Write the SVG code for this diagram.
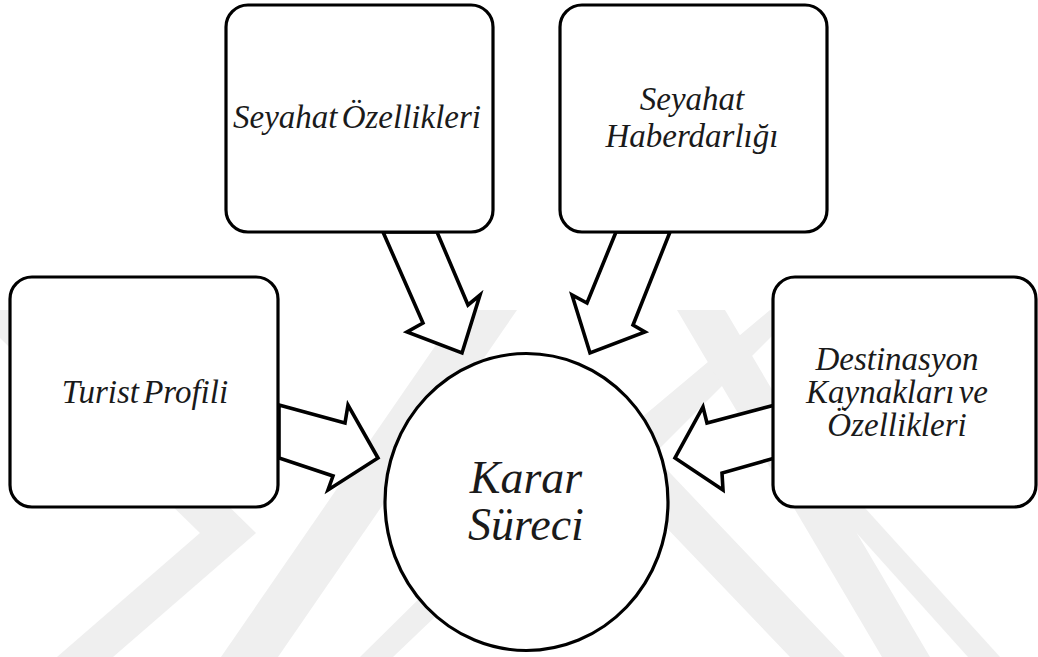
<svg xmlns="http://www.w3.org/2000/svg" width="1038" height="657" viewBox="0 0 1038 657">
<style>
.box{fill:#ffffff;stroke:#000000;stroke-width:3.2}
.arrow{fill:#ffffff;stroke:#000000;stroke-width:3.6;stroke-linejoin:miter}
.wm{fill:#efefef;stroke:none}
</style>
<rect width="1038" height="657" fill="#ffffff"/>
<g id="watermark">
<polygon class="wm" points="0,310 28,310 256,533 113,657 57,657 200,533 0,338"/>
<polygon class="wm" points="460,310 517,310 278,657 221,657"/>
<polygon class="wm" points="590,430 612,448 393,657 360,657"/>
<polygon class="wm" points="770,310 798,310 653,455 845,657 790,657 597,455"/>
<polygon class="wm" points="677,310 725,310 930,657 882,657"/>
<polygon class="wm" points="800,470 826,465 1000,657 968,657"/>
</g>
<g id="connectors">
<polygon class="arrow" points="279,405 345,423 348,405 378,458 328,490 333,476 279,458"/>
<polygon class="arrow" points="383,232 423,323 407,332 462,353 480,295 468,305 437,232"/>
<polygon class="arrow" points="616,232 587,303 572,295 590,353 645,332 633,325 670,232"/>
<polygon class="arrow" points="775,405 707,423 703,407 675,458 723,490 722,473 775,458"/>
</g>
<g id="node-turist">
<rect class="box" x="10" y="277" width="268" height="230" rx="22"/>
<text x="145" y="403" font-family="Liberation Serif" font-style="italic" font-size="33" fill="#1a1a1a" text-anchor="middle" word-spacing="-4">Turist Profili</text>
</g>
<g id="node-seyahat-ozellikleri">
<rect class="box" x="226" y="5" width="267" height="227" rx="22"/>
<text x="357" y="128" font-family="Liberation Serif" font-style="italic" font-size="33" fill="#1a1a1a" text-anchor="middle" word-spacing="-4">Seyahat Özellikleri</text>
</g>
<g id="node-seyahat-haberdarligi">
<rect class="box" x="560" y="5" width="267" height="227" rx="22"/>
<text x="692" y="110" font-family="Liberation Serif" font-style="italic" font-size="33" fill="#1a1a1a" text-anchor="middle">Seyahat</text>
<text x="692" y="147" font-family="Liberation Serif" font-style="italic" font-size="33" fill="#1a1a1a" text-anchor="middle">Haberdarlığı</text>
</g>
<g id="node-destinasyon">
<rect class="box" x="773" y="277" width="263" height="230" rx="22"/>
<text x="897" y="370" font-family="Liberation Serif" font-style="italic" font-size="33" fill="#1a1a1a" text-anchor="middle">Destinasyon</text>
<text x="897" y="403" font-family="Liberation Serif" font-style="italic" font-size="33" fill="#1a1a1a" text-anchor="middle" word-spacing="-4">Kaynakları ve</text>
<text x="897" y="436" font-family="Liberation Serif" font-style="italic" font-size="33" fill="#1a1a1a" text-anchor="middle">Özellikleri</text>
</g>
<g id="node-karar">
<ellipse class="box" cx="526.5" cy="502" rx="141.5" ry="148.5"/>
<text x="526" y="493" font-family="Liberation Serif" font-style="italic" font-size="46" fill="#1a1a1a" text-anchor="middle">Karar</text>
<text x="526" y="540" font-family="Liberation Serif" font-style="italic" font-size="46" fill="#1a1a1a" text-anchor="middle">Süreci</text>
</g>
</svg>
